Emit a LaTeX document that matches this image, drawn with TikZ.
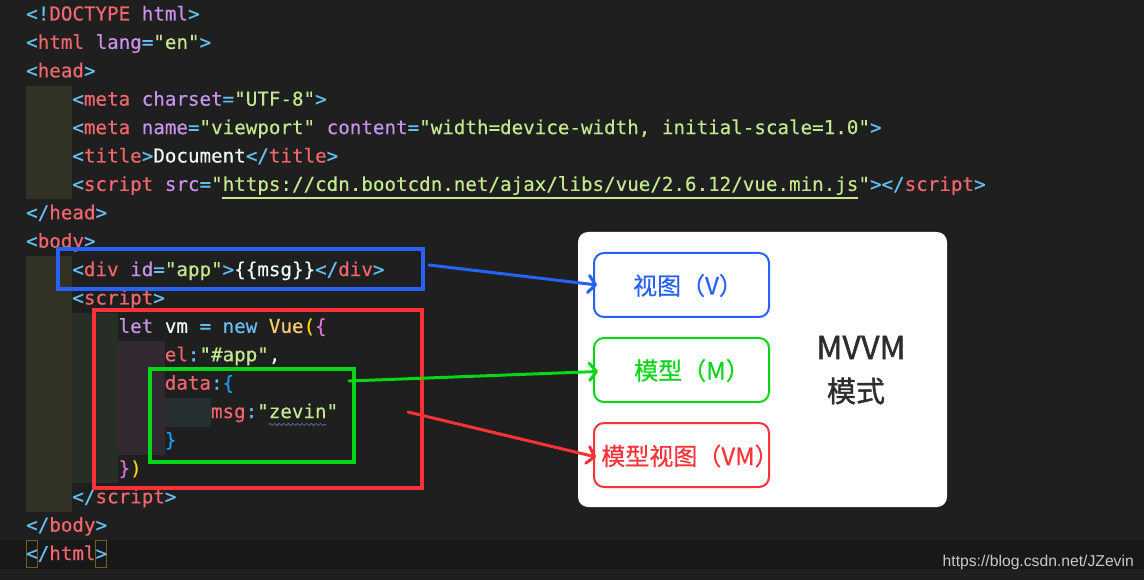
\documentclass[tikz,border=0pt]{standalone}
\usepackage{fontspec}
\setmainfont{Liberation Sans}
\newfontfamily\codefont{DejaVu Sans Mono}[FakeBold=0.35]
\newfontfamily\cjk{Noto Sans CJK SC}[FakeBold=0.5]
\newfontfamily\cjkm{Noto Sans CJK SC}[FakeBold=1.2]
\usetikzlibrary{arrows.meta,decorations.pathmorphing}
\definecolor{bg}{RGB}{31,31,31}
\definecolor{band}{RGB}{24,24,24}
\definecolor{cpun}{RGB}{100,190,240}
\definecolor{ctag}{RGB}{242,102,108}
\definecolor{cattr}{RGB}{199,146,234}
\definecolor{cstr}{RGB}{195,232,141}
\definecolor{cwh}{RGB}{238,250,250}
\definecolor{cyl}{RGB}{255,203,107}
\definecolor{cgd}{RGB}{255,215,0}
\definecolor{cor}{RGB}{218,112,214}
\definecolor{cbl}{RGB}{23,159,255}
\definecolor{indA}{RGB}{49,49,37}
\definecolor{indB}{RGB}{38,46,38}
\definecolor{indC}{RGB}{50,40,50}
\definecolor{indD}{RGB}{37,47,47}
\definecolor{matchbox}{RGB}{110,95,35}
\definecolor{wavy}{RGB}{85,105,145}
\definecolor{ablue}{RGB}{38,98,245}
\definecolor{agreen}{RGB}{8,214,22}
\definecolor{ared}{RGB}{250,50,55}
\definecolor{dark}{RGB}{45,45,45}
\definecolor{wmark}{RGB}{200,200,200}
\newcommand\kPu[1]{\textcolor{cpun}{#1}}
\newcommand\kTg[1]{\textcolor{ctag}{#1}}
\newcommand\kAt[1]{\textcolor{cattr}{#1}}
\newcommand\kSt[1]{\textcolor{cstr}{#1}}
\newcommand\kWh[1]{\textcolor{cwh}{#1}}
\newcommand\kYl[1]{\textcolor{cyl}{#1}}
\newcommand\kGd[1]{\textcolor{cgd}{#1}}
\newcommand\kOr[1]{\textcolor{cor}{#1}}
\newcommand\kBl[1]{\textcolor{cbl}{#1}}
\begin{document}
\begin{tikzpicture}[x=1pt,y=-1pt,
  code/.style={anchor=base west, inner sep=0pt, text=cwh,
    font=\codefont\fontsize{19.2pt}{23pt}\selectfont},
  annot/.style={line width=3.3pt},
  arr/.style={line width=3pt, line cap=round,
    -{Straight Barb[length=7pt,width=17pt,line width=3pt,round]}},
  panelbox/.style={fill=white, rounded corners=10pt, inner sep=0pt,
    minimum width=369pt, minimum height=275pt},
  sbox/.style={rounded corners=10pt, line width=2pt, inner sep=0pt,
    minimum width=175pt, minimum height=64pt},
  lbl/.style={inner sep=0pt, font=\cjk\fontsize{24pt}{28pt}\selectfont},
]
\useasboundingbox (0,0) rectangle (1144,580);
\fill[bg] (0,0) rectangle (1144,580);
% current line band
\fill[band] (0,540.1) rectangle (1144,568.5);
% indentation guides
\fill[indA] (26,85.7) rectangle (72.2,199.3);
\fill[indA] (26,256.1) rectangle (72.2,511.7);
\fill[indB] (72.2,313) rectangle (118.4,483.3);
\fill[indC] (118.4,341.3) rectangle (164.6,454.9);
\fill[indD] (164.6,398.1) rectangle (210.8,426.5);
% bracket match boxes
\draw[matchbox, line width=1pt] (26.5,540.7) rectangle (37.6,567.9);
\draw[matchbox, line width=1pt] (95.8,540.7) rectangle (106.9,567.9);
% code lines
\node[code] (l0) at (26,20.5) {\kPu{<!}\kTg{DOCTYPE} \kAt{html}\kPu{>}};
\node[code] (l1) at (26,48.9) {\kPu{<}\kTg{html} \kAt{lang}\kPu{=}\kSt{"en"}\kPu{>}};
\node[code] (l2) at (26,77.3) {\kPu{<}\kTg{head}\kPu{>}};
\node[code] (l3) at (72.2,105.7) {\kPu{<}\kTg{meta} \kAt{charset}\kPu{=}\kSt{"UTF-8"}\kPu{>}};
\node[code] (l4) at (72.2,134.1) {\kPu{<}\kTg{meta} \kAt{name}\kPu{=}\kSt{"viewport"} \kAt{content}\kPu{=}\kSt{"width=device-width, initial-scale=1.0"}\kPu{>}};
\node[code] (l5) at (72.2,162.5) {\kPu{<}\kTg{title}\kPu{>}\kWh{Document}\kPu{</}\kTg{title}\kPu{>}};
\node[code] (l6) at (72.2,190.9) {\kPu{<}\kTg{script} \kAt{src}\kPu{=}\kSt{"https://cdn.bootcdn.net/ajax/libs/vue/2.6.12/vue.min.js"}\kPu{></}\kTg{script}\kPu{>}};
\node[code] (l7) at (26,219.3) {\kPu{</}\kTg{head}\kPu{>}};
\node[code] (l8) at (26,247.7) {\kPu{<}\kTg{body}\kPu{>}};
\node[code] (l9) at (72.2,276.1) {\kPu{<}\kTg{div} \kAt{id}\kPu{=}\kSt{"app"}\kPu{>}\kWh{\{\{msg\}\}}\kPu{</}\kTg{div}\kPu{>}};
\node[code] (l10) at (72.2,304.5) {\kPu{<}\kTg{script}\kPu{>}};
\node[code] (l11) at (118.4,332.9) {\kAt{let} \kWh{vm} \kPu{=} \kPu{new} \kYl{Vue}\kGd{(}\kOr{\{}};
\node[code] (l12) at (164.6,361.3) {\kTg{el}\kPu{:}\kSt{"\#app"}\kWh{,}};
\node[code] (l13) at (164.6,389.7) {\kTg{data}\kPu{:}\kBl{\{}};
\node[code] (l14) at (210.8,418.1) {\kTg{msg}\kPu{:}\kSt{"zevin"}};
\node[code] (l15) at (164.6,446.5) {\kBl{\}}};
\node[code] (l16) at (118.4,474.9) {\kOr{\}}\kGd{)}};
\node[code] (l17) at (72.2,503.3) {\kPu{</}\kTg{script}\kPu{>}};
\node[code] (l18) at (26,531.7) {\kPu{</}\kTg{body}\kPu{>}};
\node[code] (l19) at (26,560.1) {\kPu{</}\kTg{html}\kPu{>}};
% url underline and wavy underline
\draw[cstr, line width=1.5pt] (222.4,198) -- (857.6,198);
\draw[wavy, line width=0.8pt, decorate,
  decoration={snake, amplitude=1.1pt, segment length=4.6pt}] (268.5,424.5) -- (326.3,424.5);
% annotation rectangles
\draw[annot, ablue] (58,249) rectangle (423,289);
\draw[annot, ared] (94,310) rectangle (422,488);
\draw[annot, agreen] (150,369) rectangle (354,462);
% panel
\node[panelbox] (panel) at (762.5,369.5) {};
\node[sbox, draw=ablue] (vbox) at (681.5,285) {};
\node[sbox, draw=agreen] (mbox) at (681.5,370) {};
\node[sbox, draw=ared] (vmbox) at (681.5,455) {};
\node[lbl, text=ablue] (vtext) at (688,285.5) {视图（V）};
\node[lbl, text=agreen] (mtext) at (692,370.5) {模型（M）};
\node[lbl, text=ared] (vmtext) at (690,456) {模型视图（VM）};
\node[inner sep=0pt, text=dark, font=\cjkm\fontsize{32pt}{36pt}\selectfont] (mvvm) at (861,347.5) {MVVM};
\node[inner sep=0pt, text=dark, font=\cjkm\fontsize{29pt}{33pt}\selectfont] (mode) at (856,391) {模式};
% arrows
\coordinate (vs) at (429,265);
\coordinate (gs) at (349,381);
\coordinate (rs) at (408,412);
\draw[arr, ablue] (vs) -- ([xshift=4pt]vbox.west);
\draw[arr, agreen] (gs) -- ([xshift=5pt,yshift=-1.5pt]mbox.west);
\draw[arr, ared] (rs) -- ([xshift=3pt,yshift=-2pt]vmbox.west);
% watermark
\node[anchor=base east, inner sep=0pt, text=wmark, font=\fontsize{15.7pt}{18pt}\selectfont] (wm) at (1134,566.5) {https://blog.csdn.net/JZevin};
\end{tikzpicture}
\end{document}
